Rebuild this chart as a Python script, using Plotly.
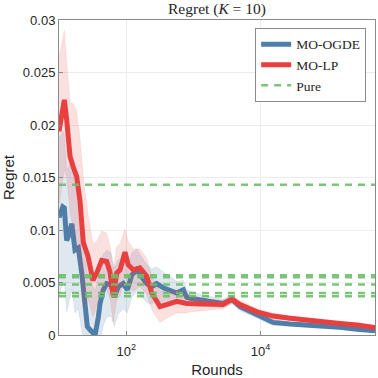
import plotly.graph_objects as go

# MO-LP (red) mean regret and half-width of the shaded band
lp_rounds = [10, 12, 13, 14.6, 16.3, 18.3, 20.5, 23, 27, 32, 36.4, 43.2, 51.3, 57.4,
             64.3, 72.3, 80.9, 96, 107, 128, 160, 202, 240, 318, 401, 564, 794, 889,
             1253, 1766, 2754, 3750, 4937, 8830, 15300, 27400, 49100, 84900, 152000,
             272000, 471000, 504000]
lp_regret = [0.0194, 0.0224, 0.0205, 0.0170, 0.0160, 0.0151, 0.0128, 0.0088, 0.0075, 0.0052,
             0.0059, 0.0071, 0.0070, 0.0060, 0.0037, 0.0059, 0.0062, 0.0079, 0.0067, 0.0062,
             0.0064, 0.0056, 0.0040, 0.0027, 0.0029, 0.0032, 0.0030, 0.0030, 0.0029, 0.0029,
             0.0029, 0.0034, 0.0029, 0.0022, 0.0018, 0.0016, 0.0014, 0.0012, 0.0011,
             0.00095, 0.00075, 0.0007]
lp_spread = [0.0070, 0.0066, 0.0055, 0.0052, 0.0060, 0.0062, 0.0060, 0.0062, 0.0040, 0.0035,
             0.0030, 0.0028, 0.0027, 0.0025, 0.0025, 0.0025, 0.0025, 0.0022, 0.0022, 0.0020,
             0.0018, 0.0017, 0.0016, 0.0015, 0.0013, 0.0011, 0.0009, 0.0008, 0.0006, 0.0005,
             0.0004, 0.0004, 0.0004, 0.0003, 0.0003, 0.0002, 0.0002, 0.0002, 0.00015,
             0.00012, 0.0001, 0.0001]

# MO-OGDE (blue)
ogde_rounds = [10, 11.4, 12, 13, 14, 15.5, 17.3, 19.4, 21.8, 24.4, 26.4, 28.9, 32, 34.4,
               38.5, 40.8, 45.6, 51.3, 59.4, 66.5, 76.3, 90.6, 104, 121, 143, 170, 202,
               240, 284, 357, 449, 564, 708, 794, 889, 1253, 1766, 2754, 3750, 4937,
               8830, 15300, 27400, 49100, 84900, 152000, 272000, 471000, 504000]
ogde_regret = [0.0112, 0.0122, 0.0121, 0.0090, 0.0095, 0.0106, 0.0081, 0.0083, 0.0059, 0.0027,
               0.0008, 0.0005, 0.0001, 0.0000, 0.0017, 0.0030, 0.0043, 0.0049, 0.0048, 0.0036,
               0.0046, 0.0049, 0.0043, 0.0057, 0.0062, 0.0056, 0.0049, 0.0046, 0.0049, 0.0045,
               0.0043, 0.0040, 0.0043, 0.0036, 0.0035, 0.0033, 0.0032, 0.0030, 0.0034, 0.0027,
               0.0019, 0.0012, 0.00105, 0.00095, 0.00086, 0.00073, 0.00054, 0.00041, 0.0004]
ogde_spread = [0.0075, 0.0072, 0.0070, 0.0068, 0.0065, 0.0062, 0.0060, 0.0058, 0.0055, 0.0052,
               0.0050, 0.0048, 0.0045, 0.0042, 0.0040, 0.0037, 0.0034, 0.0032, 0.0030, 0.0028,
               0.0026, 0.0024, 0.0022, 0.0021, 0.0020, 0.0019, 0.0018, 0.0017, 0.0016, 0.0015,
               0.0013, 0.0011, 0.0009, 0.0008, 0.0007, 0.0006, 0.0005, 0.0004, 0.0004, 0.0004,
               0.0003, 0.0003, 0.0002, 0.0002, 0.0002, 0.00015, 0.00012, 0.0001, 0.0001]

# Pure strategies (constant regret levels)
pure_levels = [0.0143, 0.0057, 0.0055, 0.0048, 0.0040, 0.0037]
round_span = [10, 504000]

blue = '#4f7ea9'
red = '#e8403f'
green = '#6cbf69'


def band(xs, ys, sp, color):
    upper = [y + s for y, s in zip(ys, sp)]
    lower = [max(y - s, -0.001) for y, s in zip(ys, sp)]
    return go.Scatter(x=xs + xs[::-1], y=upper + lower[::-1], fill='toself',
                      fillcolor=color, line=dict(width=0.6, color=color),
                      hoverinfo='skip', showlegend=False)


fig = go.Figure()
fig.add_trace(band(ogde_rounds, ogde_regret, ogde_spread, 'rgba(79,126,169,0.18)'))
fig.add_trace(go.Scatter(x=ogde_rounds, y=ogde_regret, mode='lines', name='MO-OGDE',
                         line=dict(color=blue, width=5)))
fig.add_trace(band(lp_rounds, lp_regret, lp_spread, 'rgba(232,64,63,0.16)'))
fig.add_trace(go.Scatter(x=lp_rounds, y=lp_regret, mode='lines', name='MO-LP',
                         line=dict(color=red, width=5)))

pure_x, pure_y = [], []
for v in pure_levels:
    pure_x += round_span + [None]
    pure_y += [v, v, None]
fig.add_trace(go.Scatter(x=pure_x, y=pure_y, mode='lines', name='Pure', opacity=0.9,
                         line=dict(color=green, width=2.5, dash='7px,6px')))

axis_style = dict(showline=True, mirror=True, linecolor='#8a8a8a', linewidth=1,
                  ticks='inside', ticklen=4, tickcolor='#8a8a8a', automargin=False,
                  showgrid=True, gridcolor='#ececec', gridwidth=1, zeroline=False,
                  tickfont=dict(family='Liberation Sans, Arial', size=13, color='#262626'))

fig.update_xaxes(type='log', range=[1, 5.702], tickvals=[100, 10000],
                 ticktext=['10<sup>2</sup>', '10<sup>4</sup>'], ticklabelstandoff=4,
                 title=dict(text='Rounds',
                            font=dict(family='Liberation Sans, Arial', size=15, color='#262626')),
                 **axis_style)
fig.update_yaxes(range=[0, 0.03], tickvals=[0, 0.005, 0.01, 0.015, 0.02, 0.025, 0.03],
                 ticktext=['0', '0.005', '0.01', '0.015', '0.02', '0.025', '0.03'],
                 title=dict(text='Regret',
                            font=dict(family='Liberation Sans, Arial', size=15, color='#262626')),
                 **axis_style)

fig.update_layout(
    width=378, height=378,
    margin=dict(l=59, r=3, t=20, b=43, autoexpand=False),
    paper_bgcolor='white', plot_bgcolor='white',
    title=dict(text='Regret (<i>K</i> = 10)', x=0.574, xanchor='center', y=0.978, yanchor='middle',
               font=dict(family='Liberation Serif, Times New Roman', size=15.5, color='#262626')),
    legend=dict(x=0.972, y=0.975, xanchor='right', yanchor='top',
                bgcolor='white', bordercolor='#8a8a8a', borderwidth=1,
                font=dict(family='Liberation Serif, Times New Roman', size=13.5, color='#262626'),
                tracegroupgap=0, itemwidth=30),
    showlegend=True,
)

fig.write_html("out.html", config={'displayModeBar': False},
               post_script="document.body.style.margin='0';")
